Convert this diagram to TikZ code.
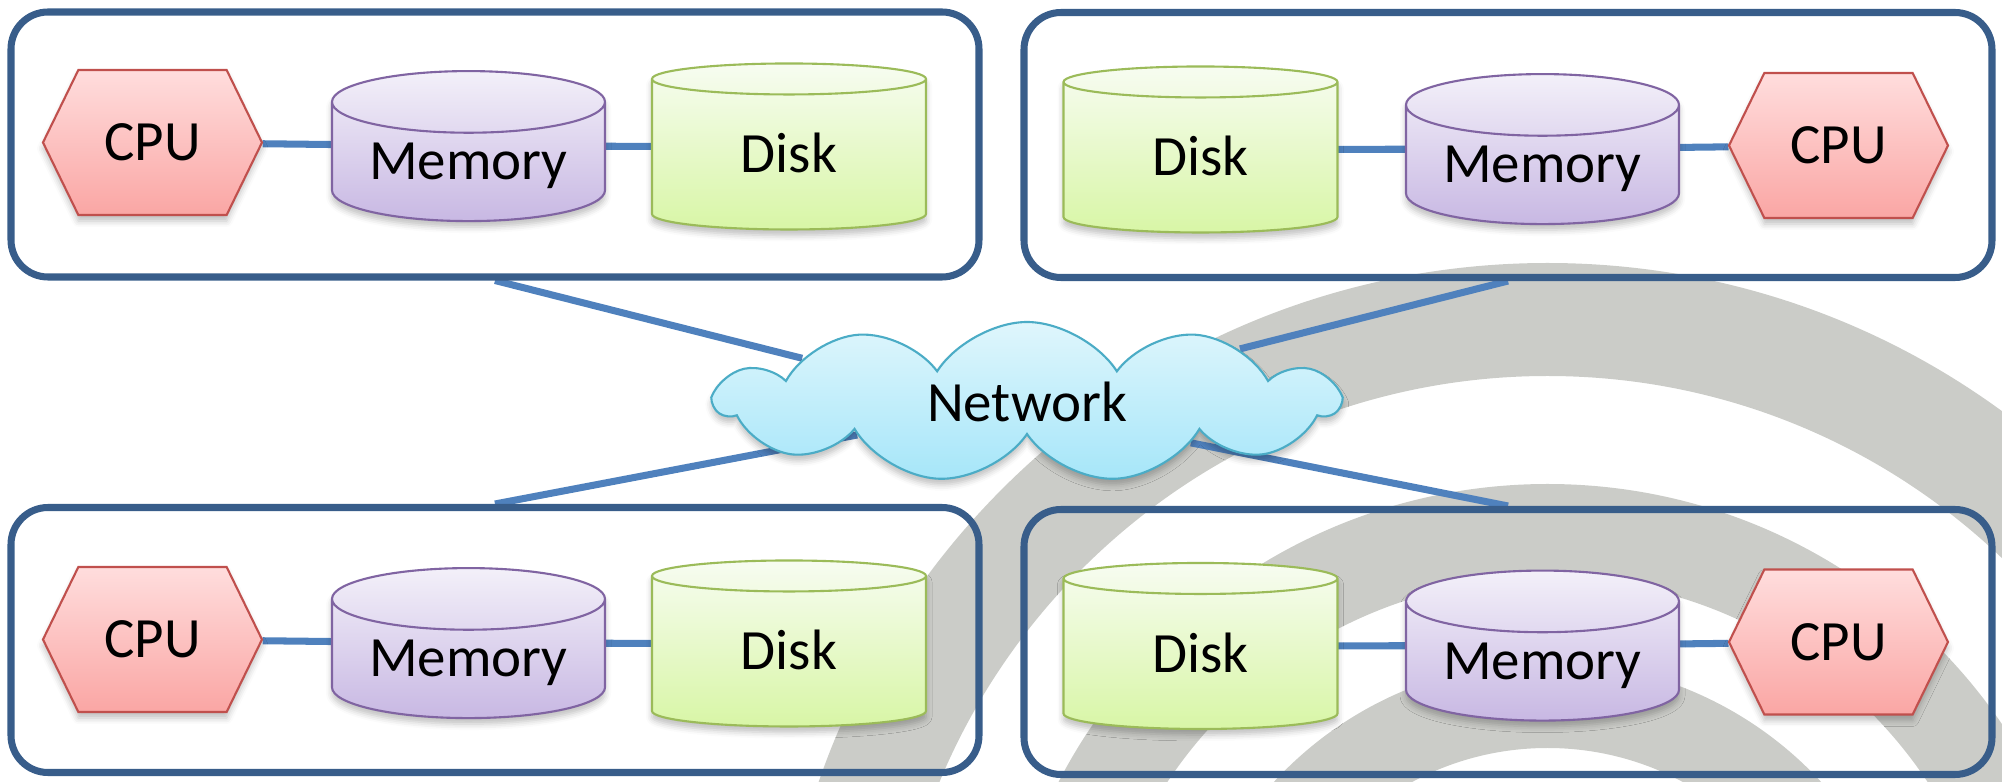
\documentclass[tikz,border=0pt]{standalone}
\usepackage{fontspec}
\setmainfont{Carlito}
\usetikzlibrary{shapes.geometric,shapes.symbols,shadows.blur}

\definecolor{hostline}{RGB}{56,93,138}
\definecolor{wire}{RGB}{79,129,189}
\definecolor{ring}{RGB}{203,204,200}
\definecolor{cpuline}{RGB}{192,80,77}
\definecolor{cputop}{RGB}{255,221,221}
\definecolor{cpubot}{RGB}{250,166,164}
\definecolor{memline}{RGB}{128,100,162}
\definecolor{memtop}{RGB}{243,240,249}
\definecolor{membot}{RGB}{200,184,227}
\definecolor{diskline}{RGB}{155,187,89}
\definecolor{disktop}{RGB}{247,252,241}
\definecolor{diskbot}{RGB}{216,246,166}
\definecolor{netline}{RGB}{75,172,198}
\definecolor{nettop}{RGB}{223,246,252}
\definecolor{netbot}{RGB}{166,230,249}

\pgfdeclarelayer{background}
\pgfsetlayers{background,main}

\begin{document}
\begin{tikzpicture}[thick,
    label font/.style={font=\fontsize{16.2}{19}\selectfont},
    soft/.style={blur shadow={shadow xshift=0pt, shadow yshift=-0.6mm, shadow blur radius=0.6mm, shadow opacity=25}},
    host/.style={draw=hostline, line width=2pt, rounded corners=0.37cm, minimum width=9.68cm, minimum height=2.65cm},
    cpu/.style={signal, signal to=east and west, signal pointer angle=128, draw=cpuline, line width=0.6pt, top color=cputop, bottom color=cpubot, minimum width=2.19cm, minimum height=1.45cm, soft, label font},
    mem/.style={cylinder, shape border rotate=90, aspect=0.3, draw=memline, line width=0.6pt, top color=memtop, bottom color=membot, minimum width=2.73cm, minimum height=1.50cm, inner sep=1pt, text depth=0.08cm, yshift=-2.3mm, soft, label font},
    disk/.style={cylinder, shape border rotate=90, aspect=0.3, draw=diskline, line width=0.6pt, top color=disktop, bottom color=diskbot, minimum width=2.74cm, minimum height=1.66cm, inner sep=1pt, text depth=0.07cm, yshift=-1.4mm, soft, label font},
    net/.style={cloud, cloud puffs=11, cloud puff arc=115, aspect=3.9, draw=netline, line width=0.6pt, top color=nettop, bottom color=netbot, minimum width=6.22cm, minimum height=1.60cm, soft, label font},
    link/.style={draw=wire, line width=2pt}]

    \useasboundingbox (0,0) rectangle (20.02,7.82);

    % the four machines
    \node[host] (host1) at (4.95,6.375) {};
    \node[host] (host2) at (15.08,6.37) {};
    \node[host] (host3) at (4.95,1.42) {};
    \node[host] (host4) at (15.08,1.40) {};

    \node[cpu] (cpu1) at (1.525,6.395) {CPU};
    \node[mem] (mem1) [right of=cpu1, node distance=3.16cm] {Memory};
    \node[disk] (disk1) [right of=cpu1, node distance=6.365cm] {Disk};

    \node[cpu] (cpu2) at (18.385,6.365) {CPU};
    \node[mem] (mem2) [left of=cpu2, node distance=2.96cm] {Memory};
    \node[disk] (disk2) [left of=cpu2, node distance=6.38cm] {Disk};

    \node[cpu] (cpu3) at (1.525,1.425) {CPU};
    \node[mem] (mem3) [right of=cpu3, node distance=3.16cm] {Memory};
    \node[disk] (disk3) [right of=cpu3, node distance=6.365cm] {Disk};

    \node[cpu] (cpu4) at (18.385,1.40) {CPU};
    \node[mem] (mem4) [left of=cpu4, node distance=2.96cm] {Memory};
    \node[disk] (disk4) [left of=cpu4, node distance=6.38cm] {Disk};

    \node[net] (net) at (10.27,3.80) {Network};

    \begin{pgfonlayer}{background}
        % grey rings in the back
        \begin{scope}
            \clip (0,0) rectangle (20.02,7.82);
            \fill[ring, even odd rule] (15.475,-2.52) circle (7.71) circle (6.58) circle (5.50) circle (4.56) circle (3.72) circle (2.86);
        \end{scope}

        \draw[link] (cpu1) to (mem1.shape center);
        \draw[link] (mem1.shape center) to (disk1.shape center);
        \draw[link] (disk2.shape center) to (mem2.shape center);
        \draw[link] (mem2.shape center) to (cpu2);
        \draw[link] (cpu3) to (mem3.shape center);
        \draw[link] (mem3.shape center) to (disk3.shape center);
        \draw[link] (disk4.shape center) to (mem4.shape center);
        \draw[link] (mem4.shape center) to (cpu4);

        \draw[link] (host1.south) to (net.169);
        \draw[link] (host2.south) to (net.14);
        \draw[link] (host3.north) to (net.191);
        \draw[link] (host4.north) to (net.346);
    \end{pgfonlayer}
\end{tikzpicture}
\end{document}
